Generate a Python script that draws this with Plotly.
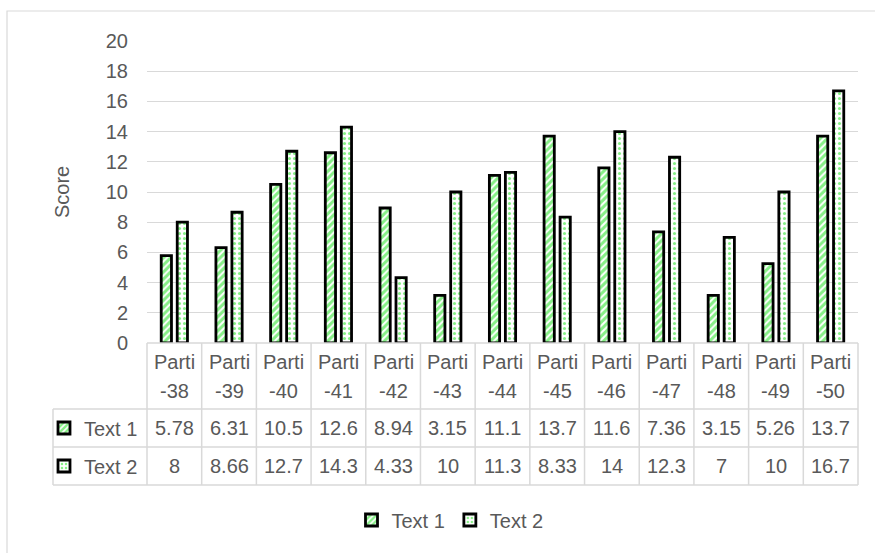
import plotly.graph_objects as go

categories = ["Parti-38", "Parti-39", "Parti-40", "Parti-41", "Parti-42", "Parti-43", "Parti-44",
              "Parti-45", "Parti-46", "Parti-47", "Parti-48", "Parti-49", "Parti-50"]
text1 = [5.78, 6.31, 10.5, 12.6, 8.94, 3.15, 11.1, 13.7, 11.6, 7.36, 3.15, 5.26, 13.7]
text2 = [8, 8.66, 12.7, 14.3, 4.33, 10, 11.3, 8.33, 14, 12.3, 7, 10, 16.7]
series_names = ["Text 1", "Text 2"]
y_ticks = [0, 2, 4, 6, 8, 10, 12, 14, 16, 18, 20]

W, H = 875, 553
L, R, T, B = 147, 17, 41, 210
PW, PH = W - L - R, H - T - B

def px_x(p):
    return (p - L) / PW

def px_y(p):
    return (H - B - p) / PH

FONT = "Liberation Sans"
TXT = "#595959"
GRID = "#d9d9d9"
GREEN = "#10e010"

pat1 = dict(shape="/", fgcolor=GREEN, bgcolor="white", size=5, solidity=0.6)
pat2 = dict(shape=".", fgcolor=GREEN, bgcolor="white", size=5, solidity=0.3)
line = dict(color="black", width=2.8)

fig = go.Figure()
fig.add_trace(go.Bar(x=categories, y=text1, name=series_names[0],
                     marker=dict(color="white", pattern=pat1, line=line)))
fig.add_trace(go.Bar(x=categories, y=text2, name=series_names[1],
                     marker=dict(color="white", pattern=pat2, line=line)))
# keys for the data-table rows
fig.add_trace(go.Bar(x=[None], y=[None], name=series_names[0], xaxis="x2", yaxis="y2",
                     legend="legend2", marker=dict(color="white", pattern=pat1, line=line)))
fig.add_trace(go.Bar(x=[None], y=[None], name=series_names[1], xaxis="x2", yaxis="y2",
                     legend="legend3", marker=dict(color="white", pattern=pat2, line=line)))

shapes = []
annotations = []
n = len(categories)
gl = dict(color=GRID, width=1.5)

# outer chart border
shapes.append(dict(type="rect", xref="paper", yref="paper", x0=px_x(7), x1=px_x(885),
                   y0=px_y(11), y1=px_y(570), line=dict(color=GRID, width=1.2)))

y_head_top, y_r1, y_r2, y_bot = 343, 409, 447, 485
x_left = 53
# horizontal table lines
shapes.append(dict(type="line", xref="paper", yref="paper", x0=0, x1=1,
                   y0=px_y(y_head_top), y1=px_y(y_head_top), line=gl))
for yy in (y_r1, y_r2, y_bot):
    shapes.append(dict(type="line", xref="paper", yref="paper", x0=px_x(x_left), x1=1,
                       y0=px_y(yy), y1=px_y(yy), line=gl))
# vertical table lines
for i in range(n + 1):
    shapes.append(dict(type="line", xref="paper", yref="paper", x0=i / n, x1=i / n,
                       y0=px_y(y_head_top), y1=px_y(y_bot), line=gl))
shapes.append(dict(type="line", xref="paper", yref="paper", x0=px_x(x_left), x1=px_x(x_left),
                   y0=px_y(y_r1), y1=px_y(y_bot), line=gl))

tf = dict(family=FONT, size=20, color=TXT)
for c, v1, v2 in zip(categories, text1, text2):
    a, b = c.split("-")
    annotations.append(dict(x=c, xref="x", yref="paper", y=px_y(362), text=a, showarrow=False,
                            font=tf, xanchor="center", yanchor="middle"))
    annotations.append(dict(x=c, xref="x", yref="paper", y=px_y(391), text="-" + b, showarrow=False,
                            font=tf, xanchor="center", yanchor="middle"))
    annotations.append(dict(x=c, xref="x", yref="paper", y=px_y(428), text=f"{v1:g}", showarrow=False,
                            font=tf, xanchor="center", yanchor="middle"))
    annotations.append(dict(x=c, xref="x", yref="paper", y=px_y(466), text=f"{v2:g}", showarrow=False,
                            font=tf, xanchor="center", yanchor="middle"))

annotations.append(dict(x=px_x(62), y=px_y(192), xref="paper", yref="paper", text="Score",
                        textangle=-90, showarrow=False, font=tf, xanchor="center", yanchor="middle"))

leg_common = dict(orientation="h", font=tf, bgcolor="rgba(0,0,0,0)", borderwidth=0,
                  itemwidth=30, xref="paper", yref="paper")

fig.update_layout(
    width=W, height=H,
    margin=dict(l=L, r=R, t=T, b=B),
    paper_bgcolor="white", plot_bgcolor="white",
    font=dict(family=FONT, size=20, color=TXT),
    barmode="group", bargap=0.415, bargroupgap=0.36,
    xaxis=dict(showticklabels=False, showgrid=False, zeroline=False, showline=False,
               ticks="", range=[-0.5, n - 0.5]),
    yaxis=dict(range=[0, 20], tickvals=y_ticks, showgrid=True, gridcolor=GRID, gridwidth=1.3,
               zeroline=False, showline=False, ticks="", ticklabelstandoff=18,
               tickfont=tf),
    xaxis2=dict(visible=False, domain=[0, 0.001], anchor="y2"),
    yaxis2=dict(visible=False, domain=[0, 0.001], anchor="x2"),
    showlegend=True,
    legend=dict(x=px_x(450), y=px_y(520), xanchor="center", yanchor="middle", **leg_common),
    legend2=dict(x=px_x(44), y=px_y(428), xanchor="left", yanchor="middle", **leg_common),
    legend3=dict(x=px_x(44), y=px_y(466), xanchor="left", yanchor="middle", **leg_common),
    shapes=shapes,
    annotations=annotations,
)

fig.write_html("out.html", config={"displayModeBar": False},
               post_script="document.body.style.margin='0';document.body.style.overflow='hidden';")
